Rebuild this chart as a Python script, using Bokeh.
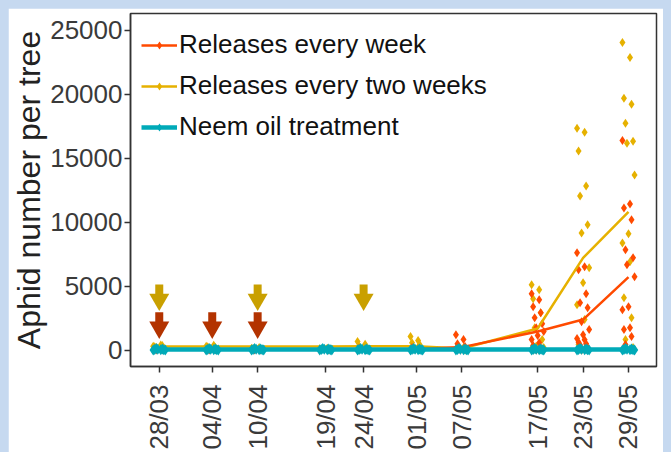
from bokeh.plotting import figure
from bokeh.embed import file_html
from bokeh.resources import INLINE
from bokeh.models import Range1d, FixedTicker, GlobalInlineStyleSheet

# ---------------- data ----------------
date_labels = ["28/03", "04/04", "10/04", "19/04", "24/04", "01/05", "07/05", "17/05", "23/05", "29/05"]
date_days = [0, 7, 13, 22, 27, 34, 40, 50, 56, 62]

# mean aphid number per tree (lines)
week_mean = [20, 20, 20, 20, 30, 60, 230, 1450, 2380, 5700]
twoweek_mean = [280, 280, 280, 280, 300, 300, 120, 1680, 7200, 10790]
neem_mean = [40, 40, 40, 40, 40, 40, 40, 40, 40, 40]

# individual trees (points), one list per date
week_points = [
    [0, 60, 120, 30, 0, 80],
    [0, 50, 100, 20, 0],
    [0, 40, 90, 10, 0],
    [0, 60, 30, 0],
    [0, 80, 150, 20],
    [0, 100, 200, 50],
    [1200, 820, 500, 270, 150, 60, 0, 30],
    [4400, 3930, 3390, 2920, 2530, 2060, 1750, 1440, 1130, 820, 580, 350, 200, 100, 50, 0, 0],
    [7600, 6500, 6270, 4400, 3700, 3310, 2220, 1600, 1200, 900, 800, 600, 500, 400, 200, 0],
    [16360, 11410, 11100, 10170, 7830, 7210, 6660, 5730, 3390, 3150, 1750, 1600, 1050, 430, 40],
]
twoweek_points = [
    [300, 400, 250, 350, 200, 150],
    [300, 380, 250, 200, 150],
    [150, 200, 100, 50],
    [100, 150, 50],
    [660, 450, 300, 200, 100],
    [1050, 740, 580, 430, 200, 100, 50],
    [100, 200, 50, 0],
    [5100, 4710, 4010, 2920, 1750, 820, 300, 200, 100, 50, 0, 0],
    [17330, 17020, 15540, 12810, 12040, 9780, 9150, 6430, 5260, 3540, 2380, 430, 200, 100, 50, 0],
    [24030, 22860, 19670, 19200, 17720, 16320, 16160, 13670, 9080, 8370, 6890, 4090, 2530, 820, 200, 100, 50],
]
neem_points = [
    [0, 20, 50, 80, 120, 30, 60, 10],
    [0, 20, 50, 80, 120, 30, 60, 10],
    [0, 20, 50, 80, 120, 30, 60, 10],
    [0, 20, 50, 80, 120, 30, 60, 10],
    [0, 20, 50, 80, 120, 30, 60, 10],
    [0, 20, 50, 80, 120, 30, 60, 10],
    [0, 20, 50, 80, 120, 30, 60, 10],
    [0, 20, 50, 80, 120, 30, 60, 10],
    [0, 20, 50, 80, 120, 30, 60, 10],
    [0, 20, 50, 80, 120, 30, 60, 10],
]

# release dates (arrows)
week_release_days = [0, 7, 13]
twoweek_release_days = [0, 13, 27]

y_ticks = [0, 5000, 10000, 15000, 20000, 25000]

# ---------------- style ----------------
RED = "#FF4A00"
GOLD = "#E6B100"
TEAL = "#00AAB8"
ARROW_GOLD = "#C9A000"
ARROW_RED = "#B33300"
FONT = "Liberation Sans"


def spread(points):
    xs, ys = [], []
    for d, vals in zip(date_days, points):
        for i, v in enumerate(vals):
            xs.append(d + (((i * 5) % 9) - 4) * 0.2)
            ys.append(v)
    return xs, ys


p = figure(width=655, height=444, output_backend="svg", toolbar_location=None,
           x_range=Range1d(-3.8, 65.7), y_range=Range1d(-1285, 26290),
           min_border_left=120, min_border_right=7, min_border_top=5, min_border_bottom=85,
           border_fill_color="white", background_fill_color="white")
p.stylesheets = [GlobalInlineStyleSheet(
    css="html, body { background-color: #C6D9F0; overflow: hidden; } body { margin: 8px 8px 0 8px; }")]

p.outline_line_color = "#333333"
p.outline_line_width = 1.5
p.grid.visible = False

# arrows
p.rect(x=twoweek_release_days, y=[4700] * 3, width=8, height=11, width_units="screen",
       height_units="screen", fill_color=ARROW_GOLD, line_color=None)
p.scatter(x=twoweek_release_days, y=[3950] * 3, marker="inverted_triangle", size=20,
          fill_color=ARROW_GOLD, line_color=None)
p.rect(x=week_release_days, y=[2520] * 3, width=8, height=11, width_units="screen",
       height_units="screen", fill_color=ARROW_RED, line_color=None)
p.scatter(x=week_release_days, y=[1770] * 3, marker="inverted_triangle", size=20,
          fill_color=ARROW_RED, line_color=None)

# points
tx, ty = spread(twoweek_points)
wx, wy = spread(week_points)
nx, ny = spread(neem_points)
p.scatter(tx, ty, marker="diamond", size=9, fill_color=GOLD, line_color=None,
          legend_label="Releases every two weeks")
p.scatter(wx, wy, marker="diamond", size=9, fill_color=RED, line_color=None,
          legend_label="Releases every week")

# lines
p.line(date_days, twoweek_mean, line_color=GOLD, line_width=2.5, legend_label="Releases every two weeks")
p.line(date_days, week_mean, line_color=RED, line_width=2.5, legend_label="Releases every week")
p.scatter(nx, ny, marker="diamond", size=11, fill_color=TEAL, line_color=None,
          legend_label="Neem oil treatment")
p.line(date_days, neem_mean, line_color=TEAL, line_width=4.5, legend_label="Neem oil treatment")

leg = p.legend[0]
order = ["Releases every week", "Releases every two weeks", "Neem oil treatment"]
items = {it.label.value: it for it in leg.items}
leg.items = [items[k] for k in order]
leg.location = "top_left"
leg.border_line_color = None
leg.background_fill_alpha = 0
leg.label_text_font = FONT
leg.label_text_font_size = "26px"
leg.label_text_color = "#111111"
leg.glyph_width = 36
leg.glyph_height = 20
leg.label_standoff = 2
leg.label_height = 41
leg.spacing = 0
leg.padding = 6
leg.margin = 11

# axes
p.xaxis.ticker = FixedTicker(ticks=date_days)
p.xaxis.major_label_overrides = {d: s for d, s in zip(date_days, date_labels)}
p.xaxis.major_label_orientation = 1.5708
p.yaxis.ticker = FixedTicker(ticks=y_ticks)
for ax in (p.xaxis[0], p.yaxis[0]):
    ax.axis_line_color = "#333333"
    ax.axis_line_width = 1.5
    ax.major_tick_line_color = "#333333"
    ax.major_tick_line_width = 1.5
    ax.major_tick_out = 6
    ax.major_tick_in = 0
    ax.minor_tick_line_color = None
    ax.major_label_text_font = FONT
    ax.major_label_text_font_size = "26px"
    ax.major_label_text_color = "#3A3A3A"
p.xaxis.major_label_standoff = 12
p.yaxis.major_label_standoff = 2
p.yaxis.axis_label = "Aphid number per tree"
p.yaxis.axis_label_text_font = FONT
p.yaxis.axis_label_text_font_size = "32px"
p.yaxis.axis_label_text_font_style = "normal"
p.yaxis.axis_label_text_color = "#222222"
p.yaxis.axis_label_standoff = 0

open("out.html", "w").write(file_html(p, INLINE))
